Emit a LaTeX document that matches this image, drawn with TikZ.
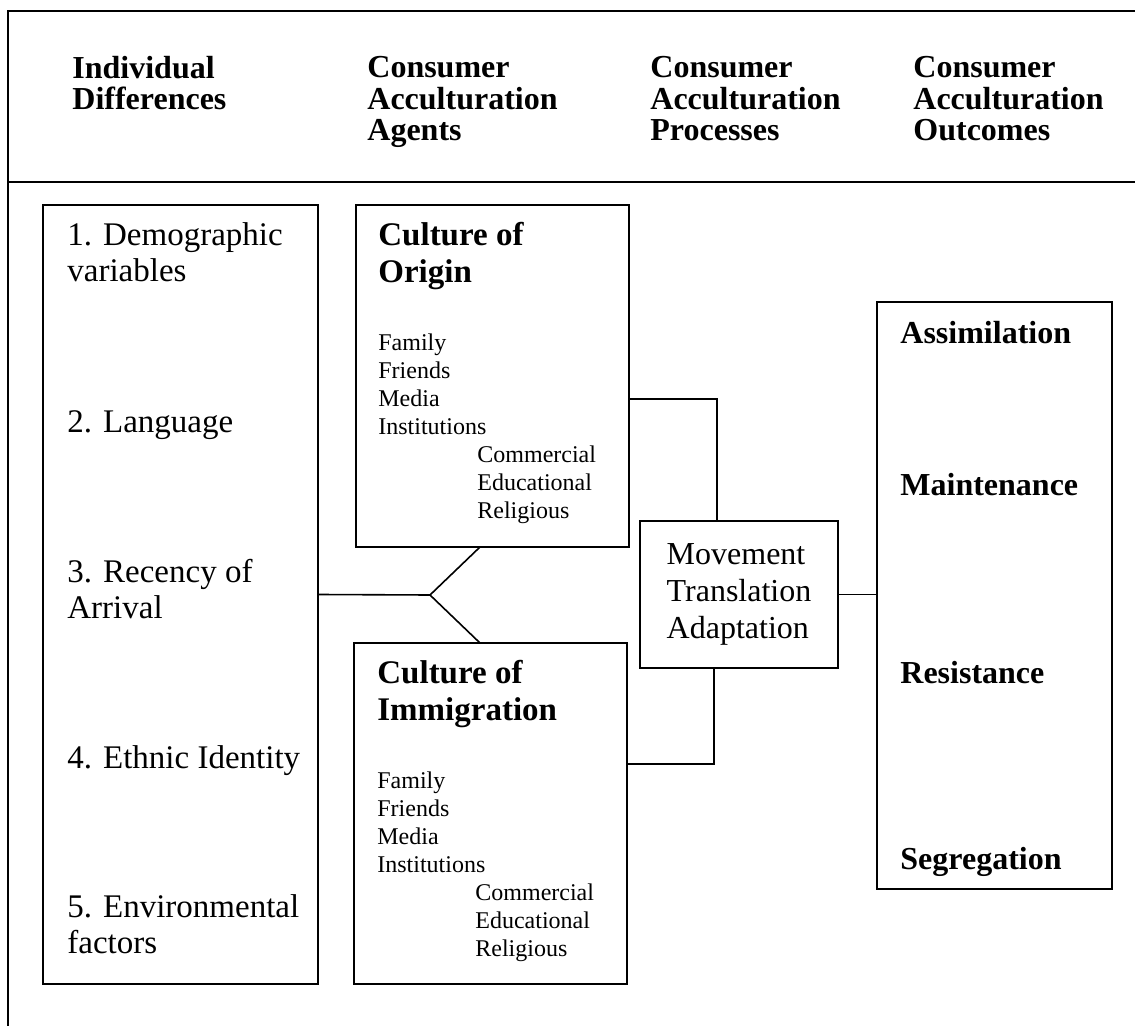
\documentclass[tikz,border=0pt]{standalone}
\usepackage{fontspec}
\setmainfont{Liberation Serif}

\tikzset{
  box/.style={draw, rectangle, line width=0.9pt, inner sep=0pt, outer sep=0pt},
  line/.style={line width=0.8pt},
  head/.style={anchor=base west, align=left, inner sep=0pt,
    font=\bfseries\fontsize{16}{15.75}\selectfont},
  entry/.style={anchor=base west, align=left, inner sep=0pt,
    font=\fontsize{16.5}{18}\selectfont},
  title/.style={anchor=base west, align=left, inner sep=0pt,
    font=\bfseries\fontsize{16.5}{18.5}\selectfont},
  agent/.style={anchor=base west, align=left, inner sep=0pt,
    font=\fontsize{12}{14}\selectfont},
  outcome/.style={anchor=base west, inner sep=0pt,
    font=\bfseries\fontsize{16}{18}\selectfont},
}

\begin{document}
\begin{tikzpicture}[x=0.5pt, y=-0.5pt]
\useasboundingbox (0,0) rectangle (1135,1026);
% table frame
\draw[line] (8,1026) -- (8,11) -- (1135,11);
\draw[line] (8,182) -- (1135,182);
% column heads (placed at the baseline of the last line)
\node[head] (h1) at (72,110) {Individual\\Differences};
\node[head] (h2) at (367,141) {Consumer\\Acculturation\\Agents};
\node[head] (h3) at (650,141) {Consumer\\Acculturation\\Processes};
\node[head] (h4) at (913,141) {Consumer\\Acculturation\\Outcomes};
% boxes
\node[box, minimum width=137.5pt, minimum height=389.5pt] (ind) at (180.5,594.5) {};
\node[box, minimum width=136.5pt, minimum height=171pt] (orig) at (492.5,376) {};
\node[box, minimum width=136.5pt, minimum height=170.5pt] (immi) at (490.5,813.5) {};
\node[box, minimum width=99pt, minimum height=73.5pt, align=left,
  font=\fontsize{16}{18.5}\selectfont] (move) at (739,594.5)
  {Movement\\Translation\\Adaptation};
\node[box, minimum width=117.5pt, minimum height=293.5pt] (outc) at (994.5,595.5) {};
% individual differences
\node[entry] (d1) at (67,282) {1. Demographic\\variables};
\node[entry] (d2) at (67,433) {2. Language};
\node[entry] (d3) at (67,618) {3. Recency of\\Arrival};
\node[entry] (d4) at (67,768) {4. Ethnic Identity};
\node[entry] (d5) at (67,953) {5. Environmental\\factors};
% agents
\node[title] (ot) at (378,283) {Culture of\\Origin};
\node[agent] (ol) at (378,518) {Family\\Friends\\Media\\Institutions\\
  \hspace*{49.5pt}Commercial\\\hspace*{49.5pt}Educational\\\hspace*{49.5pt}Religious};
\node[title] (it) at (377,720) {Culture of\\Immigration};
\node[agent] (il) at (377,956) {Family\\Friends\\Media\\Institutions\\
  \hspace*{49pt}Commercial\\\hspace*{49pt}Educational\\\hspace*{49pt}Religious};
% outcomes
\node[outcome] (o1) at (900,344) {Assimilation};
\node[outcome] (o2) at (900,495) {Maintenance};
\node[outcome] (o3) at (900,683) {Resistance};
\node[outcome] (o4) at (900,869) {Segregation};
% connectors
\coordinate (fork) at (430,595);
\draw[line] (ind.east) -- (fork) -- ([xshift=-6.25pt]orig.south);
\draw[line] (fork) -- ([xshift=-5.25pt]immi.north);
\draw[line] ([yshift=-11.5pt]orig.east) -| ([xshift=-11pt]move.north);
\draw[line] ([yshift=24.75pt]immi.east) -| ([xshift=-12.5pt]move.south);
\draw[line] (move.east) -- (move.east -| outc.west);
\end{tikzpicture}
\end{document}
